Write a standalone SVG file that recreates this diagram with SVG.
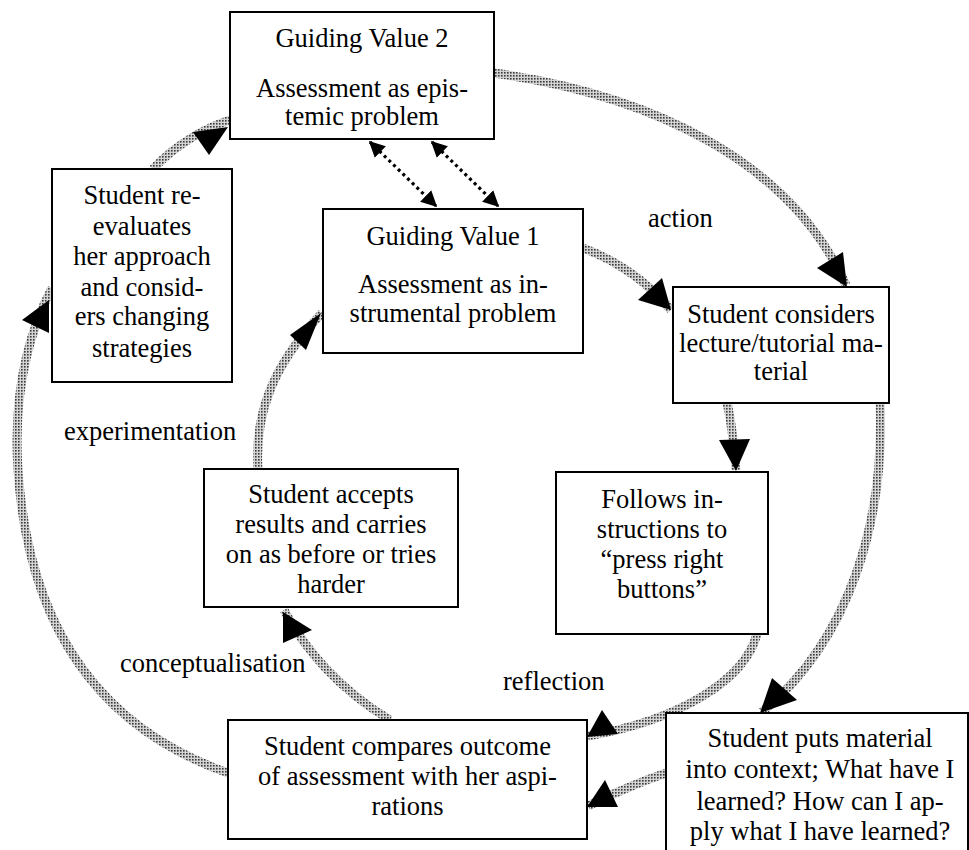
<svg xmlns="http://www.w3.org/2000/svg" width="969" height="850" viewBox="0 0 969 850">
<defs>
<pattern id="dots" patternUnits="userSpaceOnUse" width="3" height="3">
<rect width="3" height="3" fill="#d4d4d4"/>
<rect width="1.6" height="1.6" fill="#3a3a3a"/>
</pattern>
<marker id="sm" viewBox="0 0 10 10" refX="9" refY="5" markerWidth="5" markerHeight="5" orient="auto-start-reverse" markerUnits="strokeWidth">
<path d="M0,0 L10,5 L0,10 Z" fill="#000"/>
</marker>
<style>
.box{fill:#fff;stroke:#000;stroke-width:2}
.band{fill:none;stroke:url(#dots);stroke-width:9}
.head{fill:#000}
.dl{fill:none;stroke:#000;stroke-width:3.2;stroke-dasharray:3 3.5}
</style>
</defs>

<g id="connectors">
<path class="band" d="M494,73 C650,95 790,160 846,285"/>
<path class="band" d="M583,248 C620,262 650,285 671,310"/>
<path class="band" d="M727,403 C731,420 734,445 736,470"/>
<path class="band" d="M880,403 C885,520 850,640 762,712"/>
<path class="band" d="M757,634 C745,680 680,720 588,736"/>
<path class="band" d="M666,773 C640,782 610,795 588,806"/>
<path class="band" d="M390,720 C340,690 305,650 284,610"/>
<path class="band" d="M228,773 C120,735 30,650 18,470 C12,380 35,320 52,288"/>
<path class="band" d="M153,169 C175,145 205,128 230,120"/>
<path class="band" d="M258,469 C255,420 268,370 322,313"/>
<polygon class="head" points="817,268 843,252 847,287"/>
<polygon class="head" points="638,300 662,278 671,310"/>
<polygon class="head" points="719,440 750,439 736,471"/>
<polygon class="head" points="772,678 797,700 760,713"/>
<polygon class="head" points="602,710 618,734 587,737"/>
<polygon class="head" points="605,780 618,807 587,807"/>
<polygon class="head" points="283,612 312,630 283,643"/>
<polygon class="head" points="22,320 49,300 49,333"/>
<polygon class="head" points="193,132 228,127 209,155"/>
<polygon class="head" points="321,313 290,335 306,350"/>
<path class="dl" d="M370,142 L436,206" marker-start="url(#sm)" marker-end="url(#sm)"/>
<path class="dl" d="M432,142 L498,206" marker-start="url(#sm)" marker-end="url(#sm)"/>
</g>

<g font-family="Liberation Serif, Times New Roman, Times, serif" font-size="26.5" fill="#000">
<g id="gv2" text-anchor="middle">
<rect class="box" x="230" y="12" width="264" height="127"/>
<text x="362" y="47">Guiding Value 2</text>
<text x="362" y="97">Assessment as epis-</text>
<text x="362" y="125">temic problem</text>
</g>

<g id="gv1" text-anchor="middle">
<rect class="box" x="323" y="209" width="260" height="144"/>
<text x="453" y="245">Guiding Value 1</text>
<text x="453" y="293">Assessment as in-</text>
<text x="453" y="322">strumental problem</text>
</g>

<g id="reevaluate" text-anchor="middle">
<rect class="box" x="52" y="169" width="180" height="213"/>
<text x="142" y="204">Student re-</text>
<text x="142" y="235">evaluates</text>
<text x="142" y="265">her approach</text>
<text x="142" y="296">and consid-</text>
<text x="142" y="325">ers changing</text>
<text x="142" y="357">strategies</text>
</g>

<g id="considers" text-anchor="middle">
<rect class="box" x="673" y="287" width="216" height="116"/>
<text x="781" y="323">Student considers</text>
<text x="781" y="352">lecture/tutorial ma-</text>
<text x="781" y="380">terial</text>
</g>

<g id="follows" text-anchor="middle">
<rect class="box" x="556" y="472" width="212" height="162"/>
<text x="662" y="508">Follows in-</text>
<text x="662" y="538">structions to</text>
<text x="662" y="568">“press right</text>
<text x="662" y="598">buttons”</text>
</g>

<g id="accepts" text-anchor="middle">
<rect class="box" x="204" y="469" width="254" height="138"/>
<text x="331" y="503">Student accepts</text>
<text x="331" y="533">results and carries</text>
<text x="331" y="563">on as before or tries</text>
<text x="331" y="593">harder</text>
</g>

<g id="compares" text-anchor="middle">
<rect class="box" x="228" y="720" width="359" height="119"/>
<text x="407.5" y="755">Student compares outcome</text>
<text x="407.5" y="785">of assessment with her aspi-</text>
<text x="407.5" y="815">rations</text>
</g>

<g id="puts" text-anchor="middle">
<rect class="box" x="666" y="713" width="302" height="150"/>
<text x="820" y="747">Student puts material</text>
<text x="820" y="778">into context; What have I</text>
<text x="820" y="810">learned? How can I ap-</text>
<text x="820" y="840">ply what I have learned?</text>
</g>

<g id="labels">
<text x="648" y="227">action</text>
<text x="64" y="440">experimentation</text>
<text x="120" y="672">conceptualisation</text>
<text x="503" y="690">reflection</text>
</g>
</g>
</svg>
